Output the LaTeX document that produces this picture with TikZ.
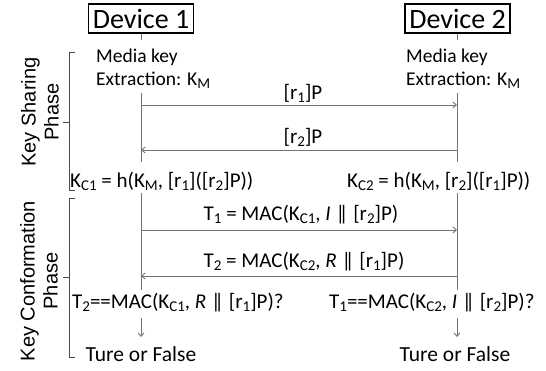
\documentclass[tikz,border=0pt]{standalone}
\usepackage{fontspec}
\setmainfont{Carlito}
\newfontfamily\arialf{Liberation Sans}
\usetikzlibrary{arrows.meta}
\newcommand\dbar{|\kern-0.3em|}
\newcommand\lsub[1]{\raisebox{-0.3ex}{\fontsize{15}{15}\selectfont #1}}
\begin{document}
\begin{tikzpicture}[x=1pt,y=-1pt,
  devbox/.style={draw=black,line width=1.1pt,minimum width=105pt,minimum height=29pt,inner sep=0pt,font=\fontsize{28}{30}\selectfont},
  txt/.style={inner sep=0pt,font=\fontsize{19.5}{22}\selectfont},
  frm/.style={inner sep=0pt,font=\fontsize{21}{23}\selectfont},
  life/.style={draw=black!55,line width=0.9pt},
  msg/.style={draw=black!55,line width=0.9pt,-{Straight Barb[length=3.5pt,width=6pt]}},
  brk/.style={draw=black!70,line width=0.8pt},
  phase/.style={rotate=90,align=center,inner sep=0pt,font=\arialf\fontsize{20}{23}\selectfont}]
\useasboundingbox (0,0) rectangle (546,371);
% devices
\node[devbox] (d1) at (141,18.5) {Device 1};
\node[devbox] (d2) at (457.5,18.5) {Device 2};
\coordinate (d1t) at (141,40);
\coordinate (d2t) at (457.5,40);
\draw[life] (d1.south) -- (d1t);
\draw[life] (d2.south) -- (d2t);
% media key
\node[txt,anchor=west] (mk1) at (96,57) {Media key};
\node[txt,anchor=west] (ex1) at (96,80) {Extraction: K\lsub{M}};
\node[txt,anchor=west] (mk2) at (406,57) {Media key};
\node[txt,anchor=west] (ex2) at (406,80) {Extraction: K\lsub{M}};
% key sharing lifelines
\coordinate (l1a) at (141,93); \coordinate (l1b) at (141,162);
\coordinate (r1a) at (457,93); \coordinate (r1b) at (457,162);
\draw[life] (l1a) -- (l1b);
\draw[life] (r1a) -- (r1b);
\coordinate (m1l) at (141,105); \coordinate (m1r) at (457,105);
\coordinate (m2l) at (141,150); \coordinate (m2r) at (457,150);
\draw[msg] (m1l) -- (m1r);
\draw[msg] (m2r) -- (m2l);
\node[frm] (lab1) at (303,93) {[r\lsub{1}]P};
\node[frm] (lab2) at (303,137) {[r\lsub{2}]P};
\node[frm,anchor=west] (kc1) at (70,181) {K\lsub{C1} = h(K\lsub{M}, [r\lsub{1}]([r\lsub{2}]P))};
\node[frm,anchor=west] (kc2) at (347,181) {K\lsub{C2} = h(K\lsub{M}, [r\lsub{2}]([r\lsub{1}]P))};
% key confirmation lifelines
\coordinate (l2a) at (141,193); \coordinate (l2b) at (141,290);
\coordinate (r2a) at (457,193); \coordinate (r2b) at (457,290);
\draw[life] (l2a) -- (l2b);
\draw[life] (r2a) -- (r2b);
\coordinate (m3l) at (141,230); \coordinate (m3r) at (457,230);
\coordinate (m4l) at (141,276); \coordinate (m4r) at (457,276);
\draw[msg] (m3l) -- (m3r);
\draw[msg] (m4r) -- (m4l);
\node[frm] (lab3) at (301,215) {T\lsub{1} = MAC(K\lsub{C1}, \textit{I} \dbar{} [r\lsub{2}]P)};
\node[frm] (lab4) at (304,262) {T\lsub{2} = MAC(K\lsub{C2}, \textit{R} \dbar{} [r\lsub{1}]P)};
\node[frm,anchor=west] (chk1) at (72,303) {T\lsub{2}==MAC(K\lsub{C1}, \textit{R} \dbar{} [r\lsub{1}]P)?};
\node[frm,anchor=west] (chk2) at (329,303) {T\lsub{1}==MAC(K\lsub{C2}, \textit{I} \dbar{} [r\lsub{2}]P)?};
\coordinate (a1s) at (141,318); \coordinate (a1e) at (141,337);
\coordinate (a2s) at (457,318); \coordinate (a2e) at (457,337);
\draw[msg] (a1s) -- (a1e);
\draw[msg] (a2s) -- (a2e);
\node[txt,font=\fontsize{21.5}{24}\selectfont] (tf1) at (141,354) {Ture or False};
\node[txt,font=\fontsize{21.5}{24}\selectfont] (tf2) at (455,354) {Ture or False};
% brackets
\coordinate (b1t) at (75,52); \coordinate (b1b) at (75,190);
\coordinate (b1m) at (69,122); \coordinate (b1x) at (63,122);
\draw[brk] (b1t) -- (69,52) -- (69,190) -- (b1b);
\draw[brk] (b1m) -- (b1x);
\node[phase] (ksp) at (40,112) {Key Sharing\\Phase};
\coordinate (b2t) at (75,198); \coordinate (b2b) at (75,357);
\coordinate (b2m) at (69,277); \coordinate (b2x) at (63,277);
\draw[brk] (b2t) -- (69,198) -- (69,357) -- (b2b);
\draw[brk] (b2m) -- (b2x);
\node[phase] (kcp) at (39,281) {Key Conformation\\Phase};
\end{tikzpicture}
\end{document}
